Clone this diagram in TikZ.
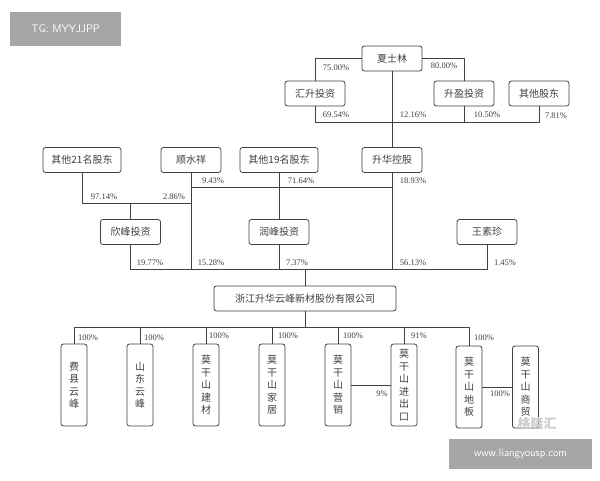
\documentclass[tikz,border=0pt]{standalone}
\usepackage{fontspec}
\setmainfont{Liberation Serif}
\newfontfamily\cjk{Noto Sans CJK SC}
\begin{document}
\begin{tikzpicture}[x=1pt,y=-1pt,
  bx/.style={draw=black!75,line width=0.8pt,rounded corners=2.5pt,fill=white,minimum height=25pt,minimum width=60pt,inner sep=1pt,font=\cjk\fontsize{10}{10}\selectfont,text=black!75},
  vb/.style={draw=black!75,line width=0.8pt,rounded corners=2.5pt,fill=white,minimum height=82pt,minimum width=26pt,inner sep=1pt,align=center,font=\cjk\fontsize{10}{12.5}\selectfont,text=black!75},
  ln/.style={draw=black!75,line width=0.7pt},
  pc/.style={font=\fontsize{8.5}{9}\selectfont,text=black!75,inner sep=0pt}]
\useasboundingbox (0,0) rectangle (600,480);
\fill[white] (0,0) rectangle (600,480);
% watermark TG
\node[fill=black!35,minimum width=111pt,minimum height=34pt,text=white,font=\sffamily\fontsize{11}{11}\selectfont] (tg) at (65.5,29) {TG: MYYJJPP};
% nodes
\node[bx] (xsl) at (392,58.5) {夏士林};
\node[bx] (hs) at (315,93.5) {汇升投资};
\node[bx] (sy) at (464,93.5) {升盈投资};
\node[bx] (qt) at (539,93.5) {其他股东};
\node[bx,minimum width=78pt] (q21) at (82,160) {其他21名股东};
\node[bx] (ssx) at (191,160) {顺水祥};
\node[bx,minimum width=78pt] (q19) at (279,160) {其他19名股东};
\node[bx] (shk) at (392,160) {升华控股};
\node[bx] (xf) at (130.5,232) {欣峰投资};
\node[bx] (rf) at (279,232) {润峰投资};
\node[bx] (wsz) at (487,232) {王素珍};
\node[bx,minimum width=182pt] (main) at (305,298.5) {浙江升华云峰新材股份有限公司};
\node[vb] (c1) at (74,385) {费\\县\\云\\峰};
\node[vb] (c2) at (140,385) {山\\东\\云\\峰};
\node[vb] (c3) at (206,385) {莫\\干\\山\\建\\材};
\node[vb] (c4) at (272,385) {莫\\干\\山\\家\\居};
\node[vb] (c5) at (338,385) {莫\\干\\山\\营\\销};
\node[vb] (c6) at (404,385) {莫\\干\\山\\进\\出\\口};
\node[vb] (c7) at (469,387) {莫\\干\\山\\地\\板};
\node[vb] (c8) at (525.5,387) {莫\\干\\山\\商\\贸};
% connectors top
\draw[ln] (xsl.west) -| (hs.north);
\draw[ln] (xsl.east) -| (sy.north);
\draw[ln] (hs.south) |- (qt.south |- 0,122) -- (qt.south);
\draw[ln] (sy.south) -- (sy.south |- 0,122);
\draw[ln] (xsl.south) -- (shk.north);
\draw[ln] (ssx.south) |- (shk.south |- 0,187);
\draw[ln] (shk.south) -- (shk.south |- main.north |- 0,269);
\draw[ln] (q19.south) -- (rf.north);
\draw[ln] (q21.south) |- (ssx.south |- 0,203);
\draw[ln] (xf.north) -- (xf.north |- 0,203);
\draw[ln] (xf.south) |- (wsz.south |- 0,269) -- (wsz.south);
\draw[ln] (ssx.south) -- (ssx.south |- 0,269);
\draw[ln] (rf.south) -- (rf.south |- 0,269);
\draw[ln] (main.north |- 0,269) -- (main.north);
% bottom
\draw[ln] (main.south) -- (main.south |- 0,327);
\draw[ln] (c1.north) |- (c7.north |- 0,327) -- (c7.north);
\foreach \c in {c2,c3,c4,c5,c6} \draw[ln] (\c.north) -- (\c.north |- 0,327);
\draw[ln] (c5.east |- 0,385) -- (c6.west |- 0,385);
\draw[ln] (c7.east |- 0,387) -- (c8.west |- 0,387);
% labels
\node[pc] at (336,68) {75.00\%};
\node[pc] at (444,66) {80.00\%};
\node[pc] at (336,115) {69.54\%};
\node[pc] at (413,115) {12.16\%};
\node[pc] at (487,115) {10.50\%};
\node[pc] at (556,116) {7.81\%};
\node[pc] at (213,181) {9.43\%};
\node[pc] at (301,181) {71.64\%};
\node[pc] at (413,181) {18.93\%};
\node[pc] at (104,197) {97.14\%};
\node[pc] at (174,197) {2.86\%};
\node[pc] at (150,263) {19.77\%};
\node[pc] at (211,263) {15.28\%};
\node[pc] at (297,263) {7.37\%};
\node[pc] at (413,263) {56.13\%};
\node[pc] at (505,263) {1.45\%};
\foreach \x/\y/\t in {88/338/100,154/338/100,219/336/100,288/336/100,353/336/100,419/336/91,484/338/100}
  \node[pc] at (\x,\y) {\t\%};
\node[pc] at (382,394) {9\%};
\node[pc] at (500,394) {100\%};
% watermarks
\node[text=black!20,font=\cjk\bfseries\fontsize{13}{13}\selectfont] (glh) at (537,424) {格隆汇};
\node[fill=black!35,minimum width=143pt,minimum height=30pt,text=white,font=\sffamily\fontsize{11}{11}\selectfont] (www) at (520.5,454) {www.liangyousp.com};
\end{tikzpicture}
\end{document}
